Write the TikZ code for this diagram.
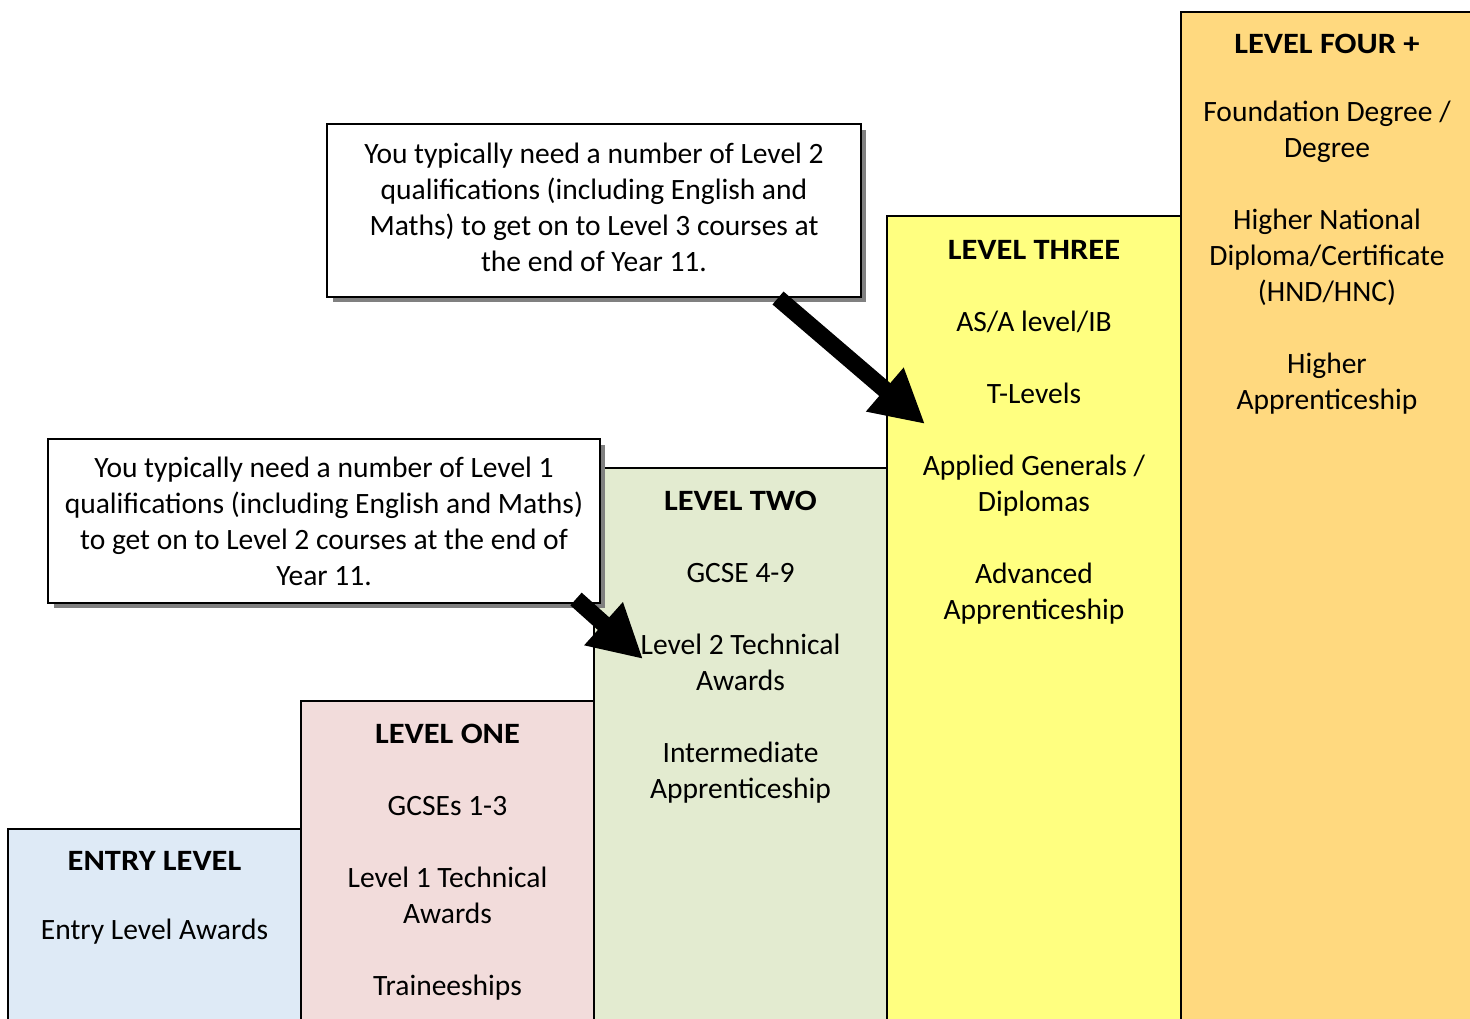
\documentclass[tikz,border=0pt]{standalone}
\usepackage{fontspec}
\setmainfont{Carlito}[BoldFeatures={FakeStretch=1.1}]
\usetikzlibrary{arrows.meta,shadows}
\definecolor{entryblue}{HTML}{DEEAF6}
\definecolor{onepink}{HTML}{F2DCDB}
\definecolor{twogreen}{HTML}{E3EBD0}
\definecolor{threeyellow}{HTML}{FFFF80}
\definecolor{fourgold}{HTML}{FFD97F}
\begin{document}
\begin{tikzpicture}[x=0.02cm,y=-0.02cm,
  level/.style={draw,line width=1.1pt},
  levtext/.style={align=center,anchor=north,inner sep=0pt,font=\fontsize{16.8}{20.5}\selectfont},
  note/.style={draw,line width=1.1pt,fill=white,align=center,inner sep=0pt,
    font=\fontsize{16.8}{20.5}\selectfont,
    drop shadow={shadow xshift=0.11cm,shadow yshift=-0.11cm,fill=gray,opacity=1}},
  bigarrow/.style={line width=0.34cm,-{Triangle[length=1.06cm,width=1.08cm]}}]
\useasboundingbox (0,0) rectangle (1470,1018);

% the five steps
\path[level,fill=entryblue] (8,829) rectangle (301,1030);
\path[level,fill=onepink] (301,701) rectangle (594,1030);
\path[level,fill=twogreen] (594,468) rectangle (887,1030);
\path[level,fill=threeyellow] (887,216) rectangle (1181,1030);
\path[level,fill=fourgold] (1181,12) rectangle (1474,1030);

\node[levtext] (entry) at (154.5,851) {\textbf{ENTRY LEVEL}\\[18.8pt]Entry Level Awards};
\node[levtext] (one) at (447.5,724) {\textbf{LEVEL ONE}\\[20.5pt]GCSEs 1-3\\[20.5pt]Level 1 Technical\\Awards\\[20.5pt]Traineeships};
\node[levtext] (two) at (740.5,491) {\textbf{LEVEL TWO}\\[20.5pt]GCSE 4-9\\[20.5pt]Level 2 Technical\\Awards\\[20.5pt]Intermediate\\Apprenticeship};
\node[levtext] (three) at (1034,240) {\textbf{LEVEL THREE}\\[20.5pt]AS/A level/IB\\[20.5pt]T-Levels\\[20.5pt]Applied Generals /\\Diplomas\\[20.5pt]Advanced\\Apprenticeship};
\node[levtext] (four) at (1327,34) {\textbf{LEVEL FOUR +}\\[18.2pt]Foundation Degree /\\Degree\\[20.5pt]Higher National\\Diploma/Certificate\\(HND/HNC)\\[20.5pt]Higher\\Apprenticeship};

% notes
\node[note,minimum width=10.68cm,minimum height=3.46cm] (note3) at (594,210.5) {You typically need a number of Level 2\\qualifications (including English and\\Maths) to get on to Level 3 courses at\\the end of Year 11.\\[-17pt]};
\node[note,minimum width=11.04cm,minimum height=3.28cm] (note2) at (324,521) {You typically need a number of Level 1\\qualifications (including English and Maths)\\to get on to Level 2 courses at the end of\\Year 11.};

\coordinate (tail3) at (778,298);
\coordinate (tip3) at (925,424);
\coordinate (tail2) at (576,599);
\coordinate (tip2) at (643,659);
\draw[bigarrow] (tail3) -- (tip3);
\draw[bigarrow] (tail2) -- (tip2);
\end{tikzpicture}
\end{document}
